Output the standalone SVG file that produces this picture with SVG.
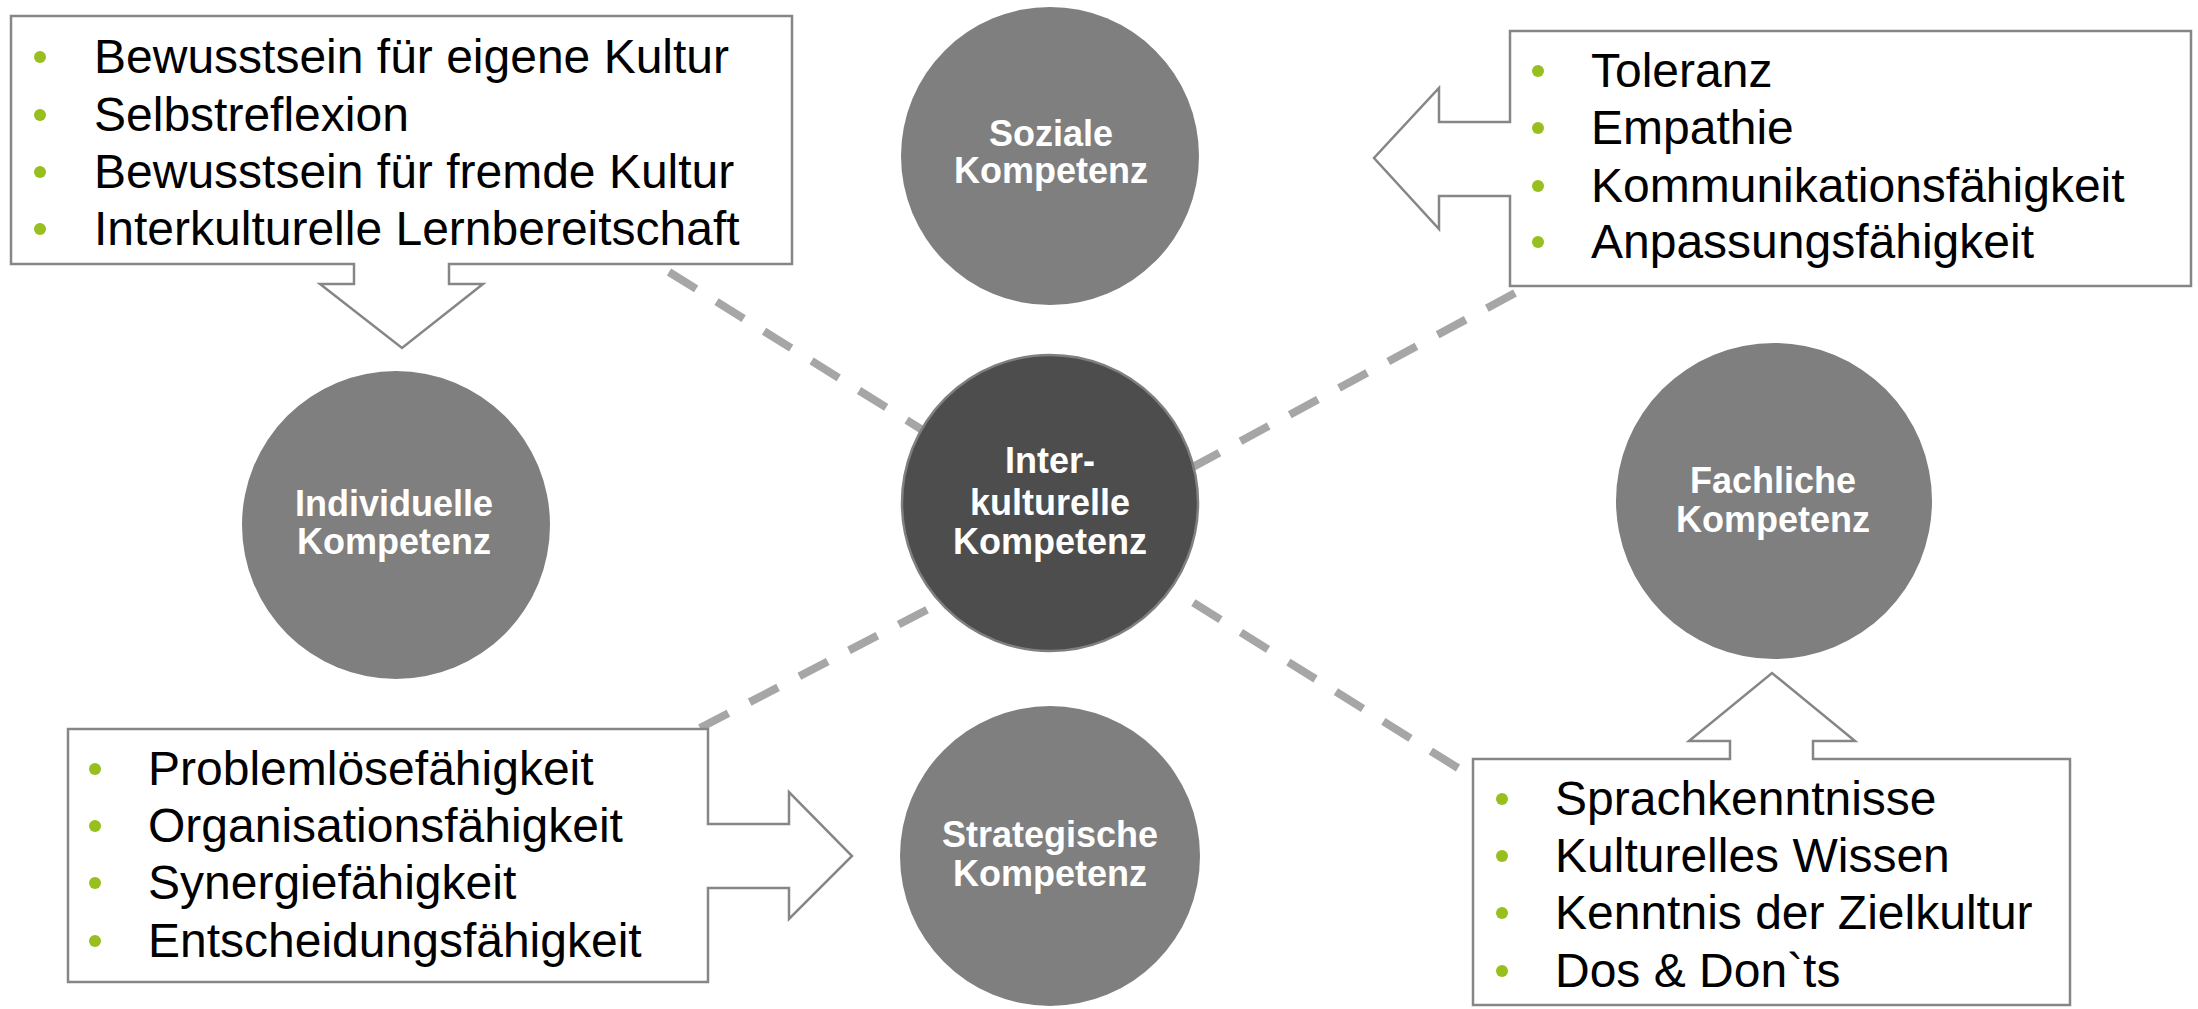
<svg xmlns="http://www.w3.org/2000/svg" width="2198" height="1009" viewBox="0 0 2198 1009">
<defs>
<style>
.bg{fill:#ffffff}
.conn{stroke:#A6A6A6;stroke-width:8;stroke-dasharray:32 24;fill:none}
.callout{fill:#ffffff;stroke:#868686;stroke-width:2.5;stroke-linejoin:miter}
.circ{fill:#7F7F7F}
.center{fill:#4D4D4D;stroke:#7F7F7F;stroke-width:2.5}
.item{font-family:"Liberation Sans",Arial,sans-serif;font-size:48px;fill:#000000}
.lbl{font-family:"Liberation Sans",Arial,sans-serif;font-size:36px;font-weight:bold;fill:#ffffff;text-anchor:middle}
.bul{fill:#97BF1E}
</style>
</defs>
<rect class="bg" x="0" y="0" width="2198" height="1009"/>

<g id="connectors">
<line class="conn" x1="669" y1="272" x2="924" y2="431"/>
<line class="conn" x1="1515" y1="293" x2="1191" y2="468"/>
<line class="conn" x1="700" y1="728" x2="940" y2="603"/>
<line class="conn" x1="1458" y1="768" x2="1189" y2="600"/>
</g>

<g id="box-individuell">
<path class="callout" d="M11,16 H792 V264 H449 V284 H483 L402,348 L320,284 H354 V264 H11 Z"/>
<circle class="bul" cx="40" cy="57" r="6"/>
<circle class="bul" cx="40" cy="115" r="6"/>
<circle class="bul" cx="40" cy="172" r="6"/>
<circle class="bul" cx="40" cy="229" r="6"/>
<text class="item" x="94" y="73">Bewusstsein für eigene Kultur</text>
<text class="item" x="94" y="131">Selbstreflexion</text>
<text class="item" x="94" y="188">Bewusstsein für fremde Kultur</text>
<text class="item" x="94" y="245">Interkulturelle Lernbereitschaft</text>
</g>

<g id="box-sozial">
<path class="callout" d="M1510,31 H2191 V286 H1510 V196 H1439 V229 L1374,158 L1439,88 V122 H1510 Z"/>
<circle class="bul" cx="1538" cy="71" r="6"/>
<circle class="bul" cx="1538" cy="128" r="6"/>
<circle class="bul" cx="1538" cy="186" r="6"/>
<circle class="bul" cx="1538" cy="242" r="6"/>
<text class="item" x="1591" y="87">Toleranz</text>
<text class="item" x="1591" y="144">Empathie</text>
<text class="item" x="1591" y="202">Kommunikationsfähigkeit</text>
<text class="item" x="1591" y="258">Anpassungsfähigkeit</text>
</g>

<g id="box-strategisch">
<path class="callout" d="M68,729 H708 V824 H789 V792 L852,856 L789,919 V888 H708 V982 H68 Z"/>
<circle class="bul" cx="95" cy="769" r="6"/>
<circle class="bul" cx="95" cy="826" r="6"/>
<circle class="bul" cx="95" cy="883" r="6"/>
<circle class="bul" cx="95" cy="941" r="6"/>
<text class="item" x="148" y="785">Problemlösefähigkeit</text>
<text class="item" x="148" y="842">Organisationsfähigkeit</text>
<text class="item" x="148" y="899">Synergiefähigkeit</text>
<text class="item" x="148" y="957">Entscheidungsfähigkeit</text>
</g>

<g id="box-fachlich">
<path class="callout" d="M1473,759 H1730 V741 H1689 L1772,673 L1855,741 H1813 V759 H2070 V1005 H1473 Z"/>
<circle class="bul" cx="1502" cy="799" r="6"/>
<circle class="bul" cx="1502" cy="856" r="6"/>
<circle class="bul" cx="1502" cy="913" r="6"/>
<circle class="bul" cx="1502" cy="971" r="6"/>
<text class="item" x="1555" y="815">Sprachkenntnisse</text>
<text class="item" x="1555" y="872">Kulturelles Wissen</text>
<text class="item" x="1555" y="929">Kenntnis der Zielkultur</text>
<text class="item" x="1555" y="987">Dos &amp; Don`ts</text>
</g>

<g id="node-soziale">
<circle class="circ" cx="1050" cy="156" r="149"/>
<text class="lbl" x="1051" y="146">Soziale</text>
<text class="lbl" x="1051" y="183">Kompetenz</text>
</g>

<g id="node-individuelle">
<circle class="circ" cx="396" cy="525" r="154"/>
<text class="lbl" x="394" y="516">Individuelle</text>
<text class="lbl" x="394" y="554">Kompetenz</text>
</g>

<g id="node-interkulturelle">
<circle class="center" cx="1050" cy="503" r="148"/>
<text class="lbl" x="1050" y="473">Inter-</text>
<text class="lbl" x="1050" y="515">kulturelle</text>
<text class="lbl" x="1050" y="554">Kompetenz</text>
</g>

<g id="node-fachliche">
<circle class="circ" cx="1774" cy="501" r="158"/>
<text class="lbl" x="1773" y="493">Fachliche</text>
<text class="lbl" x="1773" y="532">Kompetenz</text>
</g>

<g id="node-strategische">
<circle class="circ" cx="1050" cy="856" r="150"/>
<text class="lbl" x="1050" y="847">Strategische</text>
<text class="lbl" x="1050" y="886">Kompetenz</text>
</g>
</svg>
